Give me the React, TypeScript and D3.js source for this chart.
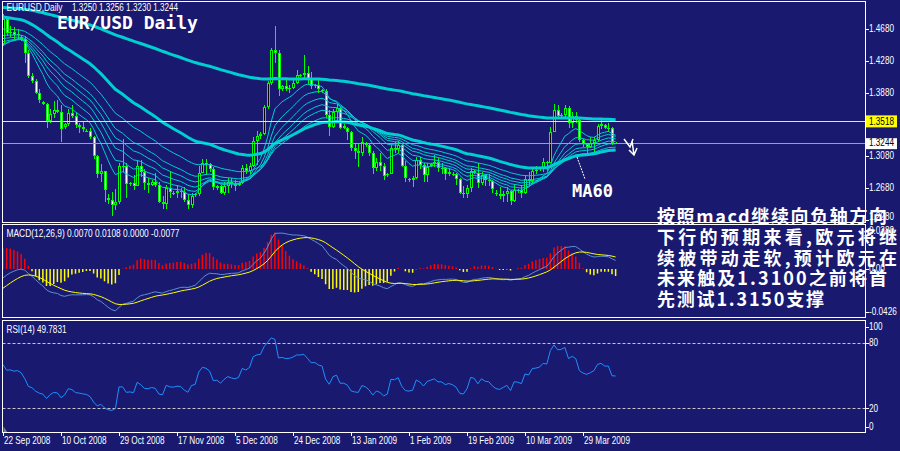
import React from "react";
import * as d3 from "d3";

// OHLC daily bars, EURUSD, 22 Sep 2008 .. 8 Apr 2009 (incl. Sunday bars)
const bars: [number, number, number, number][] = [
[1.4490,1.4867,1.4470,1.4810],[1.4800,1.4810,1.4590,1.4630],[1.4630,1.4720,1.4580,1.4640],[1.4640,1.4700,1.4560,1.4600],
[1.4600,1.4680,1.4560,1.4620],[1.4580,1.4600,1.4530,1.4560],[1.4560,1.4590,1.4250,1.4380],[1.4380,1.4420,1.4060,1.4090],
[1.4090,1.4130,1.4000,1.4030],[1.4030,1.4050,1.3860,1.3880],[1.3880,1.3920,1.3750,1.3790],[1.3760,1.3780,1.3720,1.3740],
[1.3740,1.3750,1.3440,1.3520],[1.3520,1.3680,1.3500,1.3610],[1.3610,1.3770,1.3560,1.3660],[1.3660,1.3790,1.3620,1.3640],
[1.3640,1.3720,1.3260,1.3420],[1.3450,1.3500,1.3420,1.3480],[1.3480,1.3680,1.3460,1.3620],[1.3620,1.3720,1.3560,1.3590],
[1.3590,1.3640,1.3430,1.3470],[1.3470,1.3500,1.3370,1.3450],[1.3450,1.3520,1.3380,1.3420],[1.3400,1.3420,1.3380,1.3400],
[1.3400,1.3430,1.3300,1.3320],[1.3320,1.3340,1.3040,1.3080],[1.3080,1.3100,1.2810,1.2860],[1.2860,1.2980,1.2750,1.2890],
[1.2890,1.2900,1.2500,1.2660],[1.2550,1.2600,1.2480,1.2530],[1.2530,1.2630,1.2330,1.2470],[1.2470,1.2670,1.2400,1.2500],
[1.2500,1.3000,1.2480,1.2960],[1.2960,1.3300,1.2880,1.2960],[1.2960,1.3000,1.2560,1.2730],[1.2730,1.2760,1.2700,1.2740],
[1.2740,1.2840,1.2660,1.2710],[1.2710,1.3030,1.2700,1.2960],[1.2960,1.3030,1.2820,1.2880],[1.2880,1.2920,1.2660,1.2740],
[1.2740,1.2800,1.2620,1.2720],[1.2720,1.2780,1.2700,1.2750],[1.2750,1.2870,1.2690,1.2720],[1.2720,1.2750,1.2490,1.2510],
[1.2510,1.2580,1.2420,1.2480],[1.2480,1.2720,1.2420,1.2680],[1.2680,1.2890,1.2560,1.2630],[1.2610,1.2640,1.2590,1.2620],
[1.2620,1.2720,1.2560,1.2640],[1.2640,1.2680,1.2560,1.2630],[1.2630,1.2690,1.2500,1.2530],[1.2530,1.2600,1.2420,1.2460],
[1.2460,1.2620,1.2430,1.2580],[1.2590,1.2620,1.2570,1.2600],[1.2600,1.2960,1.2580,1.2870],[1.2870,1.3050,1.2870,1.3000],
[1.3000,1.3040,1.2840,1.2980],[1.2980,1.3000,1.2880,1.2920],[1.2920,1.2940,1.2660,1.2690],[1.2680,1.2720,1.2660,1.2700],
[1.2700,1.2720,1.2600,1.2620],[1.2620,1.2750,1.2590,1.2700],[1.2700,1.2800,1.2620,1.2760],[1.2760,1.2800,1.2680,1.2730],
[1.2730,1.2780,1.2640,1.2710],[1.2720,1.2760,1.2700,1.2740],[1.2740,1.2970,1.2730,1.2930],[1.2930,1.2980,1.2850,1.2900],
[1.2900,1.2990,1.2850,1.2960],[1.2960,1.3320,1.2940,1.3270],[1.3270,1.3400,1.2970,1.3340],[1.3340,1.3380,1.3300,1.3360],
[1.3360,1.3730,1.3350,1.3700],[1.3700,1.4030,1.3680,1.4000],[1.4000,1.4440,1.3980,1.4410],[1.4410,1.4720,1.4250,1.4380],
[1.4380,1.4410,1.3840,1.3930],[1.3930,1.3980,1.3900,1.3960],[1.3960,1.4060,1.3900,1.3930],[1.3930,1.3980,1.3880,1.3940],
[1.3940,1.4040,1.3920,1.4000],[1.4000,1.4170,1.3990,1.4100],[1.4100,1.4120,1.4080,1.4100],[1.4100,1.4350,1.4060,1.4130],
[1.4130,1.4220,1.3980,1.4050],[1.4050,1.4140,1.3930,1.3960],[1.3960,1.3990,1.3940,1.3970],[1.3970,1.4050,1.3870,1.3920],
[1.3910,1.3930,1.3880,1.3900],[1.3900,1.3920,1.3560,1.3600],[1.3600,1.3660,1.3340,1.3450],[1.3450,1.3680,1.3430,1.3640],
[1.3640,1.3740,1.3500,1.3680],[1.3680,1.3700,1.3420,1.3440],[1.3460,1.3480,1.3420,1.3440],[1.3440,1.3450,1.3280,1.3380],
[1.3380,1.3400,1.3140,1.3180],[1.3180,1.3230,1.3040,1.3140],[1.3140,1.3230,1.2950,1.3120],[1.3120,1.3320,1.3080,1.3260],
[1.3250,1.3260,1.3200,1.3220],[1.3220,1.3240,1.3080,1.3120],[1.3120,1.3150,1.2860,1.2930],[1.2930,1.3060,1.2900,1.3010],
[1.3010,1.3120,1.2900,1.2960],[1.2960,1.3000,1.2780,1.2830],[1.2840,1.2870,1.2820,1.2860],[1.2860,1.3220,1.2850,1.3180],
[1.3180,1.3260,1.3120,1.3170],[1.3170,1.3270,1.3120,1.3220],[1.3220,1.3230,1.2940,1.2960],[1.2960,1.3020,1.2760,1.2800],
[1.2790,1.2810,1.2750,1.2780],[1.2780,1.2830,1.2690,1.2800],[1.2800,1.3070,1.2790,1.3030],[1.3030,1.3070,1.2920,1.2970],
[1.2970,1.2990,1.2760,1.2840],[1.2840,1.2990,1.2760,1.2950],[1.2960,1.3000,1.2940,1.2980],[1.2980,1.3090,1.2950,1.3010],
[1.3010,1.3060,1.2880,1.2930],[1.2930,1.2990,1.2860,1.2930],[1.2930,1.2940,1.2780,1.2860],[1.2860,1.2930,1.2830,1.2880],
[1.2860,1.2880,1.2830,1.2850],[1.2850,1.2870,1.2720,1.2790],[1.2790,1.2800,1.2600,1.2620],[1.2620,1.2700,1.2560,1.2600],
[1.2600,1.2720,1.2560,1.2680],[1.2680,1.2930,1.2630,1.2890],[1.2890,1.2910,1.2850,1.2870],[1.2870,1.2990,1.2680,1.2740],
[1.2740,1.2880,1.2720,1.2840],[1.2840,1.2860,1.2700,1.2780],[1.2780,1.2850,1.2710,1.2770],[1.2770,1.2780,1.2620,1.2670],
[1.2620,1.2650,1.2580,1.2600],[1.2600,1.2690,1.2540,1.2580],[1.2580,1.2640,1.2510,1.2610],[1.2610,1.2690,1.2500,1.2640],
[1.2640,1.2660,1.2460,1.2520],[1.2520,1.2730,1.2510,1.2660],[1.2640,1.2670,1.2620,1.2650],[1.2650,1.2720,1.2550,1.2620],
[1.2620,1.2830,1.2600,1.2790],[1.2790,1.2880,1.2710,1.2770],[1.2770,1.2940,1.2730,1.2900],[1.2900,1.2960,1.2850,1.2910],
[1.2920,1.2940,1.2890,1.2930],[1.2930,1.3060,1.2880,1.3010],[1.3010,1.3020,1.2890,1.3000],[1.3000,1.3450,1.2990,1.3390],
[1.3390,1.3740,1.3380,1.3660],[1.3660,1.3720,1.3550,1.3580],[1.3590,1.3620,1.3560,1.3600],[1.3600,1.3720,1.3560,1.3690],
[1.3690,1.3710,1.3440,1.3500],[1.3500,1.3630,1.3430,1.3580],[1.3580,1.3630,1.3500,1.3540],[1.3540,1.3550,1.3260,1.3290],
[1.3280,1.3300,1.3200,1.3230],[1.3230,1.3250,1.3110,1.3200],[1.3200,1.3320,1.3180,1.3240],[1.3240,1.3320,1.3120,1.3290],
[1.3290,1.3480,1.3270,1.3460],[1.3460,1.3530,1.3420,1.3490],[1.3470,1.3490,1.3420,1.3440],[1.3440,1.3500,1.3380,1.3440],
[1.3440,1.3450,1.3220,1.3250],[1.3250,1.3256,1.3230,1.3244],
];

const xTickLabels = ["22 Sep 2008","10 Oct 2008","29 Oct 2008","17 Nov 2008","5 Dec 2008","24 Dec 2008","13 Jan 2009","1 Feb 2009","19 Feb 2009","10 Mar 2009","29 Mar 2009"];
const xTickBars = [0,16,32,48,64,80,96,112,128,144,160];

const priceTicks = [1.4680,1.4280,1.3880,1.3080,1.2680,1.2280];
const macdTicks = [0.0380, 0, -0.0426];
const macdTickLabels = ["0.0380","0.00","-0.0426"];
const rsiTicks = [100, 80, 20, 0];
const rsiLevels = [80, 20];

// moving-average ribbon (EMA periods) and their values at the first bar
const thinPeriods = [10, 15, 20, 25, 30, 40];
const thinSeeds = [1.4470, 1.4490, 1.4520, 1.4560, 1.4600, 1.4680];
const thickPeriods = [60, 220];
const thickSeeds = [1.4830, 1.4950];
const macdSeeds = [1.4370, 1.4456, -0.0185]; // EMA12, EMA26, signal at first bar
const rsiSeeds = [0.0090, 0.0060]; // avg gain, avg loss at first bar

const bidPrice = 1.3244;
const levelPrice = 1.3518;

const headerSymbol = "EURUSD,Daily";
const headerPrices = "1.3250 1.3256 1.3230 1.3244";
const macdHeader = "MACD(12,26,9) 0.0070 0.0108 0.0000 -0.0077";
const rsiHeader = "RSI(14) 49.7831";
const noteLines = ["按照macd继续向负轴方向","下行的预期来看,欧元将继","续被带动走软,预计欧元在","未来触及1.3100之前将首","先测试1.3150支撑"];
const noteWidths = [230, 240, 240, 230, 167];

const BG = "#191970";
const SMALL = "'Liberation Sans',Arial,sans-serif";

function ema(v: number[], p: number, seed: number) {
  const a = 2 / (p + 1);
  const out = [seed];
  for (let i = 1; i < v.length; i++) out.push(out[i - 1] + a * (v[i] - out[i - 1]));
  return out;
}

function T({ x, y, children, fill = "#ffffff", len }: { x: number; y: number; children: React.ReactNode; fill?: string; len?: number }) {
  return (
    <text
      transform={`translate(${x},${y}) scale(0.82,1)`}
      fontFamily={SMALL}
      fontSize={10}
      fill={fill}
      dominantBaseline="central"
      textLength={len ? len / 0.82 : undefined}
      lengthAdjust={len ? "spacingAndGlyphs" : undefined}
    >
      {children}
    </text>
  );
}

export default function App() {
  const W = 900, H = 451;
  const L = 2.5, R = 865.5;
  const MAIN_T = 1.5, MAIN_B = 222.5, MACD_T = 224.5, MACD_B = 317.5, RSI_T = 320.5, RSI_B = 432.5;

  const closes = bars.map((b) => b[3]);
  const x = d3.scaleLinear().domain([xTickBars[0], xTickBars[1]]).range([3, 61]);
  const yP = d3.scaleLinear().domain([1.468, 1.268]).range([29, 188]);
  const yM = d3.scaleLinear().domain([0, -0.0426]).range([269, 313.3]);
  const yR = d3.scaleLinear().domain([0, 100]).range([430.2, 320.9]);

  const thin = thinPeriods.map((p, k) => ema(closes, p, thinSeeds[k]));
  const thick = thickPeriods.map((p, k) => ema(closes, p, thickSeeds[k]));
  const e12 = ema(closes, 12, macdSeeds[0]);
  const e26 = ema(closes, 26, macdSeeds[1]);
  const main = e12.map((v, i) => v - e26[i]);
  const signal = ema(main, 9, macdSeeds[2]);
  const hist = main.map((v, i) => 2 * (v - signal[i]));
  const rsi: number[] = [];
  let ag = rsiSeeds[0], al = rsiSeeds[1];
  rsi.push(100 - 100 / (1 + ag / al));
  for (let i = 1; i < closes.length; i++) {
    const ch = closes[i] - closes[i - 1];
    ag = (ag * 13 + Math.max(ch, 0)) / 14;
    al = (al * 13 + Math.max(-ch, 0)) / 14;
    rsi.push(100 - 100 / (1 + ag / al));
  }

  const lineP = d3.line<number>().x((_, i) => x(i)).y((d) => yP(d));
  const lineM = d3.line<number>().x((_, i) => x(i)).y((d) => yM(d));
  const lineR = d3.line<number>().x((_, i) => x(i)).y((d) => yR(d));

  const clampY = (y: number, t: number, b: number) => Math.max(t + 6, Math.min(b - 5.5, y));

  return (
    <svg width={W} height={H} style={{ position: "absolute", left: 0, top: 0, display: "block" }}>
      <defs>
        <clipPath id="cMain"><rect x={L} y={MAIN_T} width={R - L} height={MAIN_B - MAIN_T} /></clipPath>
        <clipPath id="cMacd"><rect x={L} y={MACD_T} width={R - L} height={MACD_B - MACD_T} /></clipPath>
        <clipPath id="cRsi"><rect x={L} y={RSI_T} width={R - L} height={RSI_B - RSI_T} /></clipPath>
      </defs>
      <rect x={0} y={0} width={W} height={H} fill={BG} />

      {/* main pane */}
      <g clipPath="url(#cMain)">
        <g shapeRendering="crispEdges">
          {bars.map((b, i) => {
            const [o, h, l, c] = b;
            const cx = Math.round(x(i));
            const top = Math.round(yP(Math.max(o, c)));
            const bot = Math.round(yP(Math.min(o, c)));
            const bh = Math.max(1, bot - top);
            return (
              <g key={i}>
                <rect x={cx} y={yP(h)} width={1} height={Math.max(1, yP(l) - yP(h))} fill="#00ff00" />
                <rect x={cx - 1} y={top} width={3} height={bh} fill="#00ff00" />
                {bh > 2 && <rect x={cx} y={top + 1} width={1} height={bh - 2} fill={c >= o ? "#000000" : "#ffffff"} />}
              </g>
            );
          })}
        </g>
        {thick.map((s, k) => (
          <path key={"k" + k} d={lineP(s) || ""} fill="none" stroke="#00ced1" strokeWidth={3} />
        ))}
        {thin.map((s, k) => (
          <path key={"t" + k} d={lineP(s) || ""} fill="none" stroke="#00ced1" strokeWidth={1} />
        ))}
        <line x1={L} x2={R} y1={Math.round(yP(levelPrice)) + 0.5} y2={Math.round(yP(levelPrice)) + 0.5} stroke="#ffff00" strokeWidth={1} />
        <line x1={L} x2={R} y1={Math.round(yP(bidPrice)) + 0.5} y2={Math.round(yP(bidPrice)) + 0.5} stroke="#a0a0a8" strokeWidth={1} />
      </g>

      {/* MACD pane */}
      <g clipPath="url(#cMacd)">
        {hist.map((v, i) => (
          <line key={i} x1={x(i)} x2={x(i)} y1={yM(0)} y2={yM(v)} stroke={v >= 0 ? "#ff0000" : "#ffff00"} strokeWidth={1.5} />
        ))}
        <path d={lineM(main) || ""} fill="none" stroke="#5f8fd0" strokeWidth={1} />
        <path d={lineM(signal) || ""} fill="none" stroke="#ffff00" strokeWidth={1} />
      </g>

      {/* RSI pane */}
      <g clipPath="url(#cRsi)">
        {rsiLevels.map((lv) => (
          <line key={lv} x1={L} x2={R} y1={Math.round(yR(lv)) + 0.5} y2={Math.round(yR(lv)) + 0.5} stroke="#c8c8c8" strokeWidth={1} strokeDasharray="3,2" />
        ))}
        <path d={lineR(rsi) || ""} fill="none" stroke="#1e90ff" strokeWidth={1} />
        <path d={`M${L + 1},${RSI_B - 6} L${L + 1},${RSI_B} L${L + 5},${RSI_B} Z`} fill="#808080" />
      </g>

      {/* frames */}
      <g fill="none" stroke="#ffffff" strokeWidth={1} shapeRendering="crispEdges">
        <rect x={L} y={MAIN_T} width={R - L} height={MAIN_B - MAIN_T} />
        <rect x={L} y={MACD_T} width={R - L} height={MACD_B - MACD_T} />
        <rect x={L} y={RSI_T} width={R - L} height={RSI_B - RSI_T} />
        {xTickBars.map((b) => (
          <line key={b} x1={Math.round(x(b)) + 0.5} x2={Math.round(x(b)) + 0.5} y1={RSI_B} y2={RSI_B + 3} />
        ))}
        {priceTicks.map((p) => (
          <line key={p} x1={R} x2={R + 3} y1={Math.round(yP(p)) + 0.5} y2={Math.round(yP(p)) + 0.5} />
        ))}
        {macdTicks.map((v) => (
          <line key={v} x1={R} x2={R + 3} y1={Math.round(clampY(yM(v), MACD_T, MACD_B)) + 0.5} y2={Math.round(clampY(yM(v), MACD_T, MACD_B)) + 0.5} />
        ))}
        {rsiTicks.map((v) => (
          <line key={v} x1={R} x2={R + 3} y1={Math.round(clampY(yR(v), RSI_T, RSI_B)) + 0.5} y2={Math.round(clampY(yR(v), RSI_T, RSI_B)) + 0.5} />
        ))}
      </g>

      {/* axis labels */}
      {priceTicks.map((p) => (
        <T key={p} x={869} y={clampY(yP(p), MAIN_T, MAIN_B)}>{p.toFixed(4)}</T>
      ))}
      {macdTicks.map((v, k) => (
        <T key={v} x={869} y={clampY(yM(v), MACD_T, MACD_B)}>{macdTickLabels[k]}</T>
      ))}
      {rsiTicks.map((v) => (
        <T key={v} x={869} y={clampY(yR(v), RSI_T, RSI_B)}>{v}</T>
      ))}
      {xTickBars.map((b, k) => (
        <T key={b} x={Math.round(x(b)) + 1} y={441}>{xTickLabels[k]}</T>
      ))}
      <T x={6.5} y={7.5} len={56}>{headerSymbol}</T>
      <T x={72} y={7.5} len={106}>{headerPrices}</T>
      <T x={6.5} y={234} len={173}>{macdHeader}</T>
      <T x={6.5} y={330} len={60}>{rsiHeader}</T>

      {/* price boxes */}
      <rect x={866} y={yP(levelPrice) - 6} width={31} height={12} fill="#ffff00" />
      <T x={869} y={yP(levelPrice)} fill="#000000">{levelPrice.toFixed(4)}</T>
      <rect x={866} y={yP(bidPrice) - 5} width={31} height={11} fill="#ffffff" />
      <T x={869} y={yP(bidPrice)} fill="#000000">{bidPrice.toFixed(4)}</T>

      {/* annotations */}
      <text x={57} y={28.5} fontFamily="'DejaVu Sans Mono',monospace" fontWeight="bold" fontSize={18} fill="#ffffff">EUR/USD Daily</text>
      <line x1={577} y1={157} x2={585} y2={179} stroke="#ffffff" strokeWidth={1} strokeDasharray="2,1" />
      <text x={572} y={197} fontFamily="'DejaVu Sans Mono',monospace" fontWeight="bold" fontSize={17} fill="#ffffff">MA60</text>
      <path d="M624,139 L630,147 L633,139 M632,141 L634,155 M629,150 L634,155 L637,148" fill="none" stroke="#ffffff" strokeWidth={1.5} />
      <g fontFamily="'Noto Sans CJK SC',sans-serif" fontSize={18} fontWeight="bold" fill="#ffffff" dominantBaseline="central">
        {noteLines.map((t, k) => (
          <text key={k} x={657} y={215 + k * 20.8} textLength={noteWidths[k]} lengthAdjust="spacing">{t}</text>
        ))}
      </g>
    </svg>
  );
}
